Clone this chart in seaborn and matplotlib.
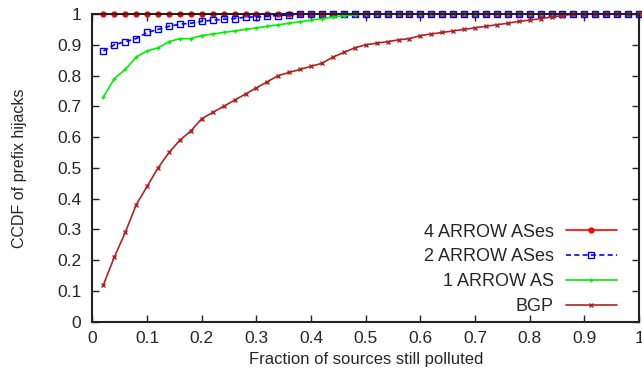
import numpy as np
import pandas as pd
import matplotlib
matplotlib.use("Agg")
import matplotlib.pyplot as plt
import seaborn as sns

fraction = [round(0.02 * i, 2) for i in range(1, 51)]

arrow4 = [1.0] * 50

arrow2 = [0.88, 0.90, 0.91, 0.92, 0.94, 0.95, 0.96, 0.967, 0.97, 0.976,
          0.98, 0.983, 0.985, 0.99, 0.99, 0.993, 0.995, 0.997, 1.0, 1.0] + [1.0] * 30

arrow1 = [0.73, 0.79, 0.82, 0.86, 0.88, 0.89, 0.91, 0.92, 0.92, 0.93,
          0.935, 0.94, 0.945, 0.95, 0.955, 0.96, 0.965, 0.97, 0.975, 0.98,
          0.985, 0.99, 0.995, 0.997, 1.0] + [1.0] * 25

bgp = [0.12, 0.21, 0.29, 0.38, 0.44, 0.50, 0.55, 0.59, 0.62, 0.66,
       0.68, 0.70, 0.72, 0.74, 0.76, 0.78, 0.80, 0.81, 0.82, 0.83,
       0.84, 0.86, 0.875, 0.89, 0.90, 0.905, 0.91, 0.916, 0.92, 0.93,
       0.935, 0.94, 0.945, 0.95, 0.955, 0.96, 0.965, 0.97, 0.976, 0.98,
       0.985, 0.99, 0.995, 1.0, 1.0, 1.0, 1.0, 1.0, 1.0, 1.0]

series_names = ["4 ARROW ASes", "2 ARROW ASes", "1 ARROW AS", "BGP"]
series_values = [arrow4, arrow2, arrow1, bgp]

xticks = [0, 0.1, 0.2, 0.3, 0.4, 0.5, 0.6, 0.7, 0.8, 0.9, 1]
xtick_labels = ["0", "0.1", "0.2", "0.3", "0.4", "0.5", "0.6", "0.7", "0.8", "0.9", "1"]
yticks = xticks
ytick_labels = xtick_labels

rows = []
for name, vals in zip(series_names, series_values):
    for x, y in zip(fraction, vals):
        rows.append({"fraction": x, "ccdf": y, "series": name})
df = pd.DataFrame(rows)

sns.set_style("ticks")
plt.rcParams["font.family"] = ["Liberation Sans", "DejaVu Sans"]

fig = plt.figure(figsize=(6.42, 3.75), dpi=100)
ax = fig.add_axes([92.5 / 642, 1 - 321.7 / 375, (639 - 92.5) / 642, (321.7 - 14) / 375])

styles = {
    "4 ARROW ASes": dict(color="#ff0000", marker="o", markersize=3.5, linestyle="-",
                         markerfacecolor="#ff0000", markeredgecolor="#ff0000"),
    "2 ARROW ASes": dict(color="#0000ff", marker="s", markersize=4.5, linestyle=(0, (3, 2)),
                         markerfacecolor="none", markeredgecolor="#0000ff", markeredgewidth=1.0),
    "1 ARROW AS": dict(color="#00ee00", marker="+", markersize=3.5, linestyle="-",
                       markeredgecolor="#00ee00"),
    "BGP": dict(color="#b22222", marker="x", markersize=3, linestyle="-",
                markeredgecolor="#b22222"),
}

for name in series_names:
    sub = df[df["series"] == name]
    st = styles[name]
    sns.lineplot(data=sub, x="fraction", y="ccdf", ax=ax, label=name,
                 color=st["color"], linewidth=1.2, linestyle=st["linestyle"],
                 marker=st["marker"], markersize=st["markersize"],
                 markerfacecolor=st.get("markerfacecolor", st["color"]),
                 markeredgecolor=st["markeredgecolor"],
                 markeredgewidth=st.get("markeredgewidth", 1.0),
                 errorbar=None, estimator=None, clip_on=False)

ax.set_xlim(0, 1)
ax.set_ylim(0, 1)
ax.set_xticks(xticks)
ax.set_xticklabels(xtick_labels, fontsize=12.5)
ax.set_yticks(yticks)
ax.set_yticklabels(ytick_labels, fontsize=12.5)
ax.tick_params(direction="in", length=5, width=1, top=True, right=True,
               color="#222222", pad=8)
ax.tick_params(axis="x", pad=7)
for sp in ax.spines.values():
    sp.set_visible(True)
    sp.set_linewidth(1.5)
    sp.set_color("#222222")
ax.set_xlabel("Fraction of sources still polluted", fontsize=12, labelpad=4)
ax.set_ylabel("CCDF of prefix hijacks", fontsize=11.5, labelpad=22)

leg = ax.legend(loc="lower right", frameon=False, fontsize=13, markerfirst=False,
                handlelength=2.85, handletextpad=0.65, labelspacing=0.43,
                borderpad=0, borderaxespad=0,
                bbox_to_anchor=((617 - 92.5) / 546.5, 0.022))
leg._legend_box.align = "right"

fig.savefig("out.png", dpi=100)
